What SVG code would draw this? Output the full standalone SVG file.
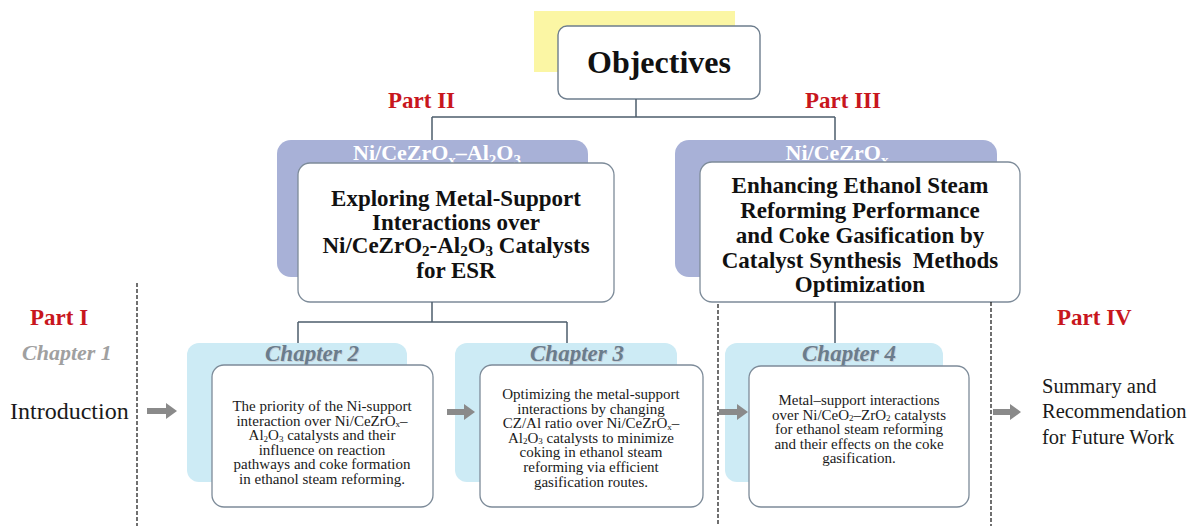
<svg xmlns="http://www.w3.org/2000/svg" width="1195" height="526" viewBox="0 0 1195 526">
<style>
text{font-family:"Liberation Serif","Times New Roman",Tinos,"DejaVu Serif",serif}
.part{font-weight:bold;font-size:23px;fill:#c8161d}
.chap{font-weight:bold;font-style:italic;font-size:23px;fill:#6b7c8c;text-anchor:middle}
.chapsh{font-weight:bold;font-style:italic;font-size:23px;fill:#c9d0d6;text-anchor:middle}
.title{font-weight:bold;font-size:23px;fill:#111;text-anchor:middle}
.sup{font-weight:bold;font-size:22px;fill:#ffffff;text-anchor:middle}
.body{font-size:15px;fill:#1a1a1a;text-anchor:middle}
.side{font-size:24px;fill:#1a1a1a}
.sum{font-size:20.5px;fill:#1a1a1a}
.back{fill:#a8b1d7}
.cback{fill:#cdebf5}
.front{fill:#ffffff;stroke:#7d8b99;stroke-width:1.3}
.conn{fill:none;stroke:#4d5d6c;stroke-width:1.5}
.dash{fill:none;stroke:#111;stroke-width:1.2;stroke-dasharray:4 2}
.arrow{fill:#8a8a8a}
</style>
<rect x="0" y="0" width="1195" height="526" fill="#ffffff"/>

<g id="objectives">
  <rect x="534" y="11" width="201" height="61" fill="#fbf6a4"/>
  <rect x="558" y="26" width="202" height="73" rx="9" fill="#ffffff" stroke="#6d7d8d" stroke-width="1.4"/>
  <text x="659" y="73" font-weight="bold" font-size="32" fill="#111" text-anchor="middle">Objectives</text>
</g>

<g id="part-labels">
  <text class="part" x="388" y="108">Part II</text>
  <text class="part" x="805" y="108">Part III</text>
  <text class="part" x="30" y="325">Part I</text>
  <text class="part" x="1057" y="325">Part IV</text>
</g>

<g id="part2">
  <rect class="back" x="277" y="140" width="311" height="137" rx="14"/>
  <text class="sup" x="437" y="160">Ni/CeZrO<tspan font-size="15" dy="5">x</tspan><tspan dy="-5">–Al</tspan><tspan font-size="15" dy="5">2</tspan><tspan dy="-5">O</tspan><tspan font-size="15" dy="5">3</tspan></text>
  <rect class="front" x="298" y="163" width="316" height="139" rx="12"/>
  <text class="title" x="456" y="206">Exploring Metal-Support</text>
  <text class="title" x="456" y="230">Interactions over</text>
  <text class="title" x="456" y="253">Ni/CeZrO<tspan font-size="15" dy="3">2</tspan><tspan dy="-3">-Al</tspan><tspan font-size="15" dy="3">2</tspan><tspan dy="-3">O</tspan><tspan font-size="15" dy="3">3</tspan><tspan dy="-3"> Catalysts</tspan></text>
  <text class="title" x="456" y="278">for ESR</text>
</g>

<g id="part3">
  <rect class="back" x="675" y="140" width="322" height="137" rx="14"/>
  <text class="sup" x="837" y="160">Ni/CeZrO<tspan font-size="15" dy="5">x</tspan></text>
  <rect class="front" x="700" y="162" width="320" height="140" rx="12"/>
  <text class="title" x="860" y="193">Enhancing Ethanol Steam</text>
  <text class="title" x="860" y="218">Reforming Performance</text>
  <text class="title" x="860" y="243">and Coke Gasification by</text>
  <text class="title" x="860" y="268" xml:space="preserve">Catalyst Synthesis  Methods</text>
  <text class="title" x="860" y="292">Optimization</text>
</g>

<g id="chapter1">
  <text x="22" y="360" font-weight="bold" font-style="italic" font-size="22" fill="#a0a0a0">Chapter 1</text>
  <text class="side" x="10" y="419">Introduction</text>
</g>

<g id="chapter2">
  <rect class="cback" x="187" y="343" width="220" height="139" rx="12"/>
  <text class="chapsh" x="313" y="362">Chapter 2</text>
  <text class="chap" x="312" y="361">Chapter 2</text>
  <rect class="front" x="212" y="365" width="221" height="142" rx="12"/>
  <text class="body" x="322" y="411">The priority of the Ni-support</text>
  <text class="body" x="322" y="425.6">interaction over Ni/CeZrO<tspan font-size="9" dy="1.5">x</tspan><tspan dy="-1.5">–</tspan></text>
  <text class="body" x="322" y="440.2">Al<tspan font-size="9" dy="1.5">2</tspan><tspan dy="-1.5">O</tspan><tspan font-size="9" dy="1.5">3</tspan><tspan dy="-1.5"> catalysts and their</tspan></text>
  <text class="body" x="322" y="454.8">influence on reaction</text>
  <text class="body" x="322" y="469.4">pathways and coke formation</text>
  <text class="body" x="322" y="484">in ethanol steam reforming.</text>
</g>

<g id="chapter3">
  <rect class="cback" x="455" y="343" width="222" height="139" rx="12"/>
  <text class="chapsh" x="578" y="362">Chapter 3</text>
  <text class="chap" x="577" y="361">Chapter 3</text>
  <rect class="front" x="480" y="365" width="223" height="142" rx="12"/>
  <text class="body" x="591" y="399">Optimizing the metal-support</text>
  <text class="body" x="591" y="413.6">interactions by changing</text>
  <text class="body" x="591" y="428.2">CZ/Al ratio over Ni/CeZrO<tspan font-size="9" dy="1.5">x</tspan><tspan dy="-1.5">–</tspan></text>
  <text class="body" x="591" y="442.8">Al<tspan font-size="9" dy="1.5">2</tspan><tspan dy="-1.5">O</tspan><tspan font-size="9" dy="1.5">3</tspan><tspan dy="-1.5"> catalysts to minimize</tspan></text>
  <text class="body" x="591" y="457.4">coking in ethanol steam</text>
  <text class="body" x="591" y="472">reforming via efficient</text>
  <text class="body" x="591" y="486.6">gasification routes.</text>
</g>

<g id="chapter4">
  <rect class="cback" x="725" y="343" width="218" height="139" rx="12"/>
  <text class="chapsh" x="850" y="362">Chapter 4</text>
  <text class="chap" x="849" y="361">Chapter 4</text>
  <rect class="front" x="749" y="366" width="220" height="141" rx="12"/>
  <text class="body" x="859" y="405">Metal–support interactions</text>
  <text class="body" x="859" y="419.6">over Ni/CeO<tspan font-size="9" dy="1.5">2</tspan><tspan dy="-1.5">–ZrO</tspan><tspan font-size="9" dy="1.5">2</tspan><tspan dy="-1.5"> catalysts</tspan></text>
  <text class="body" x="859" y="434.2">for ethanol steam reforming</text>
  <text class="body" x="859" y="448.8">and their effects on the coke</text>
  <text class="body" x="859" y="463.4">gasification.</text>
</g>

<g id="summary">
  <text class="sum" x="1042" y="393">Summary and</text>
  <text class="sum" x="1042" y="418">Recommendation</text>
  <text class="sum" x="1042" y="444">for Future Work</text>
</g>

<g id="connectors">
  <path class="conn" d="M636 99 V117 M432 117 H835 M432 117 V140 M835 117 V140"/>
  <path class="conn" d="M432 302 V322 M298 322 H567 M298 322 V343 M567 322 V343"/>
  <path class="conn" d="M835 302 V343"/>
  <path class="dash" d="M137 283 V526"/>
  <path class="dash" d="M718 304 V526"/>
  <path class="dash" d="M991 302 V526"/>
  <polygon class="arrow" points="147,408 166,408 166,403 177,411 166,419 166,414 147,414"/>
  <polygon class="arrow" points="447,409 464,409 464,404 475,412 464,420 464,415 447,415"/>
  <polygon class="arrow" points="719,409 737,409 737,404 748,412 737,420 737,415 719,415"/>
  <polygon class="arrow" points="993,409 1010,409 1010,404 1021,412 1010,420 1010,415 993,415"/>
</g>
</svg>
